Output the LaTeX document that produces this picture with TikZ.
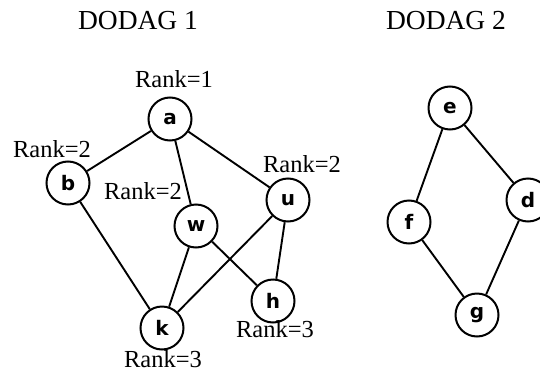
\documentclass[tikz,border=0pt]{standalone}
\usepackage{fontspec}
\setmainfont{Liberation Serif}
\newfontfamily\nodefont{DejaVu Sans}
\begin{document}
\begin{tikzpicture}[x=1pt,y=-1pt,
  vtx/.style={circle,draw,line width=2pt,minimum size=43pt,inner sep=0pt,
    font=\nodefont\bfseries\fontsize{20}{22}\selectfont},
  ranklbl/.style={font=\fontsize{24.5}{27}\selectfont,inner sep=0pt},
  title/.style={font=\fontsize{27.5}{31}\selectfont,inner sep=0pt},
  edge/.style={line width=1.9pt}]
\useasboundingbox[clip] (0,0) rectangle (540,372);
\fill[white] (0,0) rectangle (540,372);

% titles
\node[title] (t1) at (138,21) {DODAG 1};
\node[title] (t2) at (446,21) {DODAG 2};

% DODAG 1 vertices
\node[vtx] (a) at (170,119) {a};
\node[vtx] (b) at (68,183) {b};
\node[vtx] (w) at (196,226) {w};
\node[vtx] (u) at (288,200) {u};
\node[vtx] (h) at (273,301) {h};
\node[vtx] (k) at (162,328) {k};

% rank labels
\node[ranklbl] (ra) at (174,79) {Rank=1};
\node[ranklbl] (rb) at (52,149) {Rank=2};
\node[ranklbl] (rw) at (143,191) {Rank=2};
\node[ranklbl] (ru) at (302,164) {Rank=2};
\node[ranklbl] (rh) at (275,329) {Rank=3};
\node[ranklbl] (rk) at (163,359) {Rank=3};

% DODAG 1 links
\draw[edge] (a) -- (b);
\draw[edge] (a) -- (w);
\draw[edge] (a) -- (u);
\draw[edge] (b) -- (k);
\draw[edge] (w) -- (k);
\draw[edge] (w) -- (h);
\draw[edge] (u) -- (k);
\draw[edge] (u) -- (h);

% DODAG 2 vertices
\node[vtx] (e) at (450,108) {e};
\node[vtx] (d) at (528,200) {d};
\node[vtx] (f) at (409,222) {f};
\node[vtx] (g) at (477,315) {g};

% DODAG 2 links
\draw[edge] (e) -- (f);
\draw[edge] (e) -- (d);
\draw[edge] (f) -- (g);
\draw[edge] (d) -- (g);
\end{tikzpicture}
\end{document}
